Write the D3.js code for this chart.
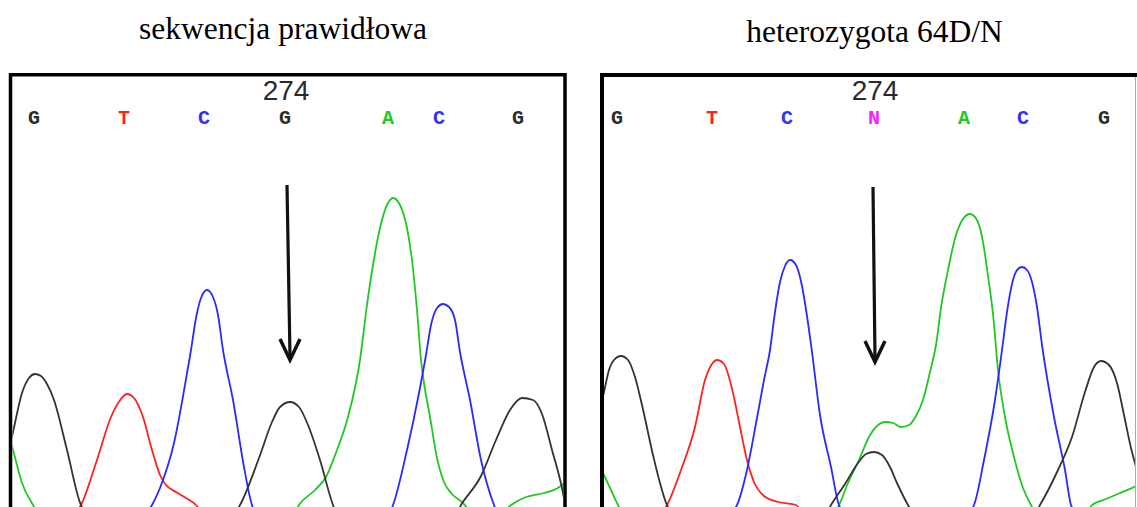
<!DOCTYPE html>
<html><head><meta charset="utf-8">
<script src="https://cdn.jsdelivr.net/npm/d3@7"></script>
<style>html,body{margin:0;padding:0;background:#fff;overflow:hidden}</style>
</head><body>
<svg id="chart" width="1137" height="507"></svg>
<script>
// ---------- data ----------
const titles = ["sekwencja prawidłowa", "heterozygota 64D/N"];
const positionLabel = "274";

const leftCalls = ["G","T","C","G","A","C","G"];
const leftCallScans = [22,112,192,273,376,427,506];
const rightCalls = ["G","T","C","N","A","C","G"];
const rightCallScans = [13,108,183,270,360,419,500];

// traces: [scan, intensity]
const leftBlack = [[-18,0],[-15,20],[-7,88],[1,156],[10,234],[17,264],[23,272],[29,268],[35,252],[42,220],[55,120],[69,10],[72,0],
  [225,0],[228,10],[247,104],[260,176],[268,206],[278,216],[287,206],[296,170],[308,100],[321,10],[323,0],
  [446,0],[449,10],[469,68],[484,140],[498,200],[510,224],[521,220],[530,192],[540,120],[551,34],[554,0]];
const leftRed = [[66,0],[69,10],[84,94],[99,186],[109,222],[115,232],[122,224],[131,186],[140,120],[148,70],[154,50],[164,36],[174,24],[184,10],[188,0]];
const leftBlue = [[137,0],[140,10],[151,60],[162,134],[173,250],[179,320],[184,384],[189,424],[195,440],[201,426],[206,390],[211,320],[221,220],[232,86],[240,10],[242,0],
  [379,0],[381,10],[395,120],[407,234],[414,310],[419,370],[425,404],[431,412],[437,406],[443,380],[448,316],[458,220],[469,100],[482,10],[484,0]];
const leftGreen = [[-12,200],[1,120],[10,54],[21,10],[24,0],
  [284,0],[287,10],[303,40],[314,66],[325,120],[336,186],[348,300],[355,410],[361,490],[368,564],[375,610],[381,624],[388,610],[395,564],[400,500],[405,400],[409,300],[412,254],[418,186],[425,104],[432,56],[440,32],[451,14],[458,0],
  [493,0],[499,10],[514,26],[532,34],[544,42],[553,56],[560,80]];

const rightBlack = [[-19,60],[-8,170],[0,236],[5,280],[10,300],[17,308],[24,300],[31,266],[38,210],[49,110],[56,54],[63,10],[66,0],
  [224,0],[227,10],[241,52],[254,94],[262,112],[270,116],[278,110],[286,86],[293,54],[304,10],[307,0],
  [433,0],[436,10],[454,80],[468,146],[481,236],[490,286],[497,298],[505,290],[513,254],[520,190],[527,124],[536,60],[544,10]];
const rightRed = [[60,0],[63,10],[77,80],[91,166],[101,260],[108,292],[113,300],[120,292],[129,234],[136,166],[143,100],[150,56],[160,28],[174,16],[192,10],[196,0]];
const rightBlue = [[130,0],[133,10],[143,80],[153,184],[160,260],[166,320],[171,396],[176,456],[181,488],[186,500],[192,490],[198,448],[203,388],[208,316],[216,190],[227,86],[235,10],[238,0],
  [367,0],[370,10],[380,100],[391,220],[398,320],[403,396],[409,460],[414,482],[418,486],[423,480],[428,456],[433,406],[438,330],[450,186],[461,80],[467,10],[470,0]];
const rightGreen = [[-19,160],[-9,110],[0,70],[7,40],[14,10],[17,0],
  [232,0],[235,10],[244,54],[255,100],[265,146],[273,168],[281,176],[289,174],[297,166],[305,170],[312,188],[319,220],[326,276],[332,330],[337,404],[344,480],[352,550],[359,582],[366,592],[373,580],[379,536],[384,468],[389,392],[394,280],[401,186],[410,106],[419,44],[427,10],[430,0],
  [484,0],[488,10],[502,22],[516,34],[530,46],[541,60]];

const leftArrow = [[275,650],[278,300]];
const rightArrow = [[269,646],[271,296]];

// ---------- drawing ----------
const svg = d3.select("#chart");
const colors = {G:"#2b2b2b", T:"#ff1f1f", C:"#3030ff", A:"#1fc81f", N:"#ff20ff"};
const traceColors = {black:"#333333", red:"#ff2020", blue:"#2a2aff", green:"#22c822"};

const y = d3.scaleLinear().domain([0,800]).range([510,110]);

const panels = [
  {title:titles[0], tx:283, ty:39, x:d3.scaleLinear().domain([0,551]).range([12,563]),
   clip:[12.5,76,550.5,431], calls:leftCalls, callScans:leftCallScans, arrow:leftArrow,
   traces:[[leftGreen,"green"],[leftRed,"red"],[leftBlue,"blue"],[leftBlack,"black"]], id:"L"},
  {title:titles[1], tx:874.5, ty:42, x:d3.scaleLinear().domain([0,531]).range([604,1135]),
   clip:[604,77,531,430], calls:rightCalls, callScans:rightCallScans, arrow:rightArrow,
   traces:[[rightGreen,"green"],[rightRed,"red"],[rightBlue,"blue"],[rightBlack,"black"]], id:"R"}
];

const defs = svg.append("defs");

panels.forEach(p => {
  // title
  svg.append("text").attr("x",p.tx).attr("y",p.ty).attr("text-anchor","middle")
    .attr("font-family","'Liberation Serif','Times New Roman',serif").attr("font-size",31.5)
    .attr("fill","#000").text(p.title);

  defs.append("clipPath").attr("id","clip"+p.id).append("rect")
    .attr("x",p.clip[0]).attr("y",p.clip[1]).attr("width",p.clip[2]).attr("height",p.clip[3]);

  const g = svg.append("g").attr("clip-path","url(#clip"+p.id+")");
  const line = d3.line().x(d=>p.x(d[0])).y(d=>y(d[1])).curve(d3.curveMonotoneX);
  p.traces.forEach(([data,c]) => {
    g.append("path").attr("d",line(data)).attr("fill","none")
      .attr("stroke",traceColors[c]).attr("stroke-width",1.8).attr("stroke-linejoin","round");
  });

  // base calls
  svg.append("g").selectAll("text").data(p.calls).join("text")
    .attr("x",(d,i)=>p.x(p.callScans[i])).attr("y",124)
    .attr("text-anchor","middle")
    .attr("font-family","'Liberation Mono','DejaVu Sans Mono',monospace")
    .attr("font-weight","bold").attr("font-size",20)
    .attr("fill",d=>colors[d]).text(d=>d);

  // position label
  const midScan = p.callScans[3];
  svg.append("text").attr("x",p.x(midScan)+1).attr("y",100).attr("text-anchor","middle")
    .attr("font-family","'Liberation Sans',Arial,sans-serif").attr("font-size",28)
    .attr("fill","#2a2a2a").text(positionLabel);

  // arrow
  const a0 = [p.x(p.arrow[0][0]), y(p.arrow[0][1])];
  const a1 = [p.x(p.arrow[1][0]), y(p.arrow[1][1])];
  svg.append("line").attr("x1",a0[0]).attr("y1",a0[1]).attr("x2",a1[0]).attr("y2",a1[1]-3)
    .attr("stroke","#111").attr("stroke-width",3.2);
  svg.append("path")
    .attr("d",`M${a1[0]-10},${a1[1]-21}L${a1[0]},${a1[1]}L${a1[0]+10},${a1[1]-21}`)
    .attr("fill","none").attr("stroke","#111").attr("stroke-width",3.5).attr("stroke-linejoin","miter");
});

// frames
svg.append("path").attr("d","M10.5,507V74.75H565V507").attr("fill","none").attr("stroke","#000").attr("stroke-width",3.5);
svg.append("path").attr("d","M602,507V75H1137").attr("fill","none").attr("stroke","#000").attr("stroke-width",4);
svg.append("line").attr("x1",1135.5).attr("y1",77).attr("x2",1135.5).attr("y2",507).attr("stroke","#aaa").attr("stroke-width",1);
</script>
</body></html>
